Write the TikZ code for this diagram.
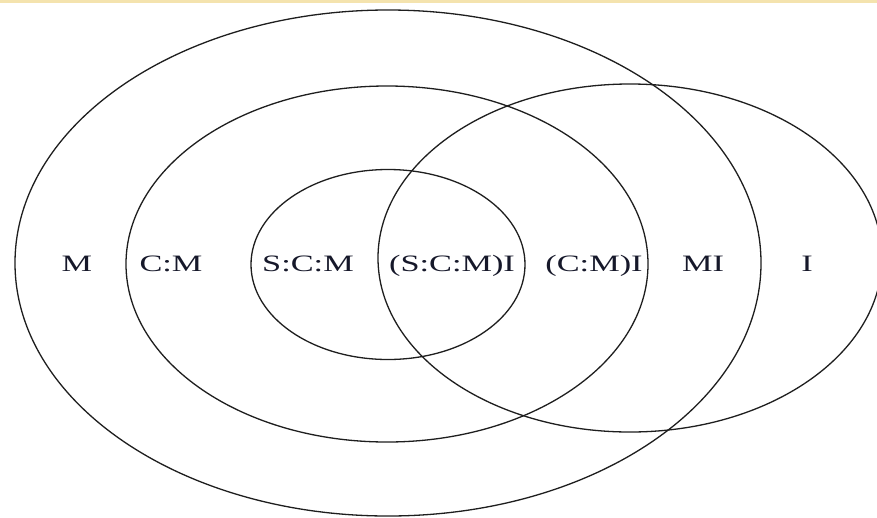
\documentclass[tikz,border=0pt]{standalone}
\usepackage{fontspec}
\setmainfont{Liberation Serif}
\definecolor{txt}{HTML}{16182A}
\definecolor{ln}{HTML}{1E1E1E}
\definecolor{topbar}{HTML}{F4E3AE}
\begin{document}
\begin{tikzpicture}[x=1pt,y=-1pt,
  ring/.style={draw=ln,line width=1.3pt},
  lbl/.style={anchor=base,inner sep=0pt,text=txt,font=\fontsize{23.5}{26}\selectfont}]
\useasboundingbox (0,0) rectangle (877,517);
\fill[white] (0,0) rectangle (877,517);
\fill[topbar] (0,0) rectangle (877,2.5);
\begin{scope}
\clip (0,0) rectangle (877,517);
\draw[ring] (388,263) ellipse [x radius=373, y radius=253];
\draw[ring] (387,264) ellipse [x radius=261, y radius=178];
\draw[ring] (388,264.5) ellipse [x radius=137, y radius=95];
\draw[ring] (630,258) ellipse [x radius=252, y radius=174];
\end{scope}
\newcommand{\wide}[1]{\scalebox{1.46}[1]{#1}}
\node[lbl] (m) at (77,271) {\wide{M}};
\node[lbl] (cm) at (171,271) {\wide{C:M}};
\node[lbl] (scm) at (308,271) {\wide{S:C:M}};
\node[lbl] (scmi) at (452,271) {\wide{(S:C:M)I}};
\node[lbl] (cmi) at (594,271) {\wide{(C:M)I}};
\node[lbl] (mi) at (703,271) {\wide{MI}};
\node[lbl] (i) at (807,271) {\wide{I}};
\end{tikzpicture}
\end{document}
